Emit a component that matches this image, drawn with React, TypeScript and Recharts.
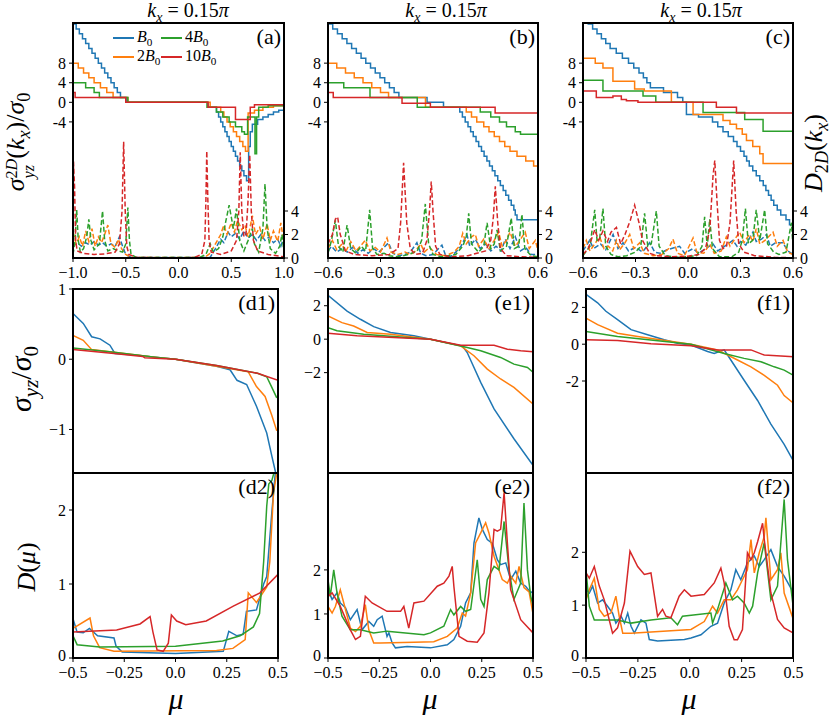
import { LineChart, Line, XAxis, YAxis } from 'recharts'

const BLUE = '#1f77b4'
const ORANGE = '#ff7f0e'
const GREEN = '#2ca02c'
const RED = '#d62728'
const FONT = '"Liberation Serif", "Times New Roman", Times, serif'

// ---- ticks ----
const xTicksA = [-1, -0.5, 0, 0.5, 1]
const xLabelsA = ['−1.0', '−0.5', '0.0', '0.5', '1.0']
const xTicksBC = [-0.6, -0.3, 0, 0.3, 0.6]
const xLabelsBC = ['−0.6', '−0.3', '0.0', '0.3', '0.6']
const xTicksMu = [-0.5, -0.25, 0, 0.25, 0.5]
const xLabelsMu = ['−0.5', '−0.25', '0.0', '0.25', '0.5']
const yTicksTop = [8, 4, 0, -4]
const yLabelsTop = ['8', '4', '0', '-4']
const rTicksTop = [0, 2, 4]
const yTicksD1 = [1, 0, -1]
const yLabelsD1 = ['1', '0', '−1']
const yTicksE1 = [2, 0, -2]
const yLabelsE1 = ['2', '0', '−2']
const yLabelsF1 = ['2', '0', '-2']
const yTicksDos = [0, 1, 2]
const yLabelsDos = ['0', '1', '2']

// ---- panel (a) : sigma (steps) and D_2D (dashed) ----
const aBlue = [[-1,16],[-0.97,15],[-0.94,14],[-0.91,13],[-0.88,12],[-0.85,11],[-0.82,10],[-0.79,9],[-0.76,8],[-0.73,7],[-0.7,6],[-0.67,5],[-0.64,4],[-0.61,3],[-0.58,2],[-0.55,1],[-0.49,0],[0.28,-1],[0.36,-2],[0.38,-3],[0.4,-4],[0.42,-5],[0.44,-6],[0.46,-7],[0.48,-8],[0.5,-9],[0.52,-10],[0.54,-11],[0.56,-12],[0.58,-13],[0.6,-14],[0.62,-15],[0.645,-16],[0.665,-9],[0.68,-6],[0.7,-4.5],[0.75,-3.5],[0.8,-3],[0.85,-2.5],[0.9,-2],[0.95,-1.6],[1,-1.3]]
const aOrange = [[-1,8],[-0.95,7],[-0.9,6],[-0.85,5],[-0.8,4],[-0.74,3],[-0.68,2],[-0.62,1],[-0.48,0],[0.3,-1],[0.4,-2],[0.43,-3],[0.46,-4],[0.49,-5],[0.52,-6],[0.55,-7],[0.58,-8],[0.61,-9],[0.635,-10],[0.66,-2.2],[0.72,-1.6],[0.8,-1],[0.9,-0.7],[1,-0.6]]
const aGreen = [[-1,4],[-0.88,3],[-0.8,2],[-0.75,1],[-0.48,0],[0.27,-1],[0.36,-2],[0.42,-3],[0.48,-4],[0.54,-5],[0.6,-6],[0.625,-6.5],[0.655,-3],[0.72,-3],[0.725,-10.5],[0.74,-3],[0.76,-1],[0.85,-0.7],[1,-0.5]]
const aRed = [[-1,2],[-0.98,1],[-0.5,0],[0.28,-1],[0.54,-3.5],[0.68,-1],[0.72,-0.5],[1,-0.5]]
const aBlueD = [[-1,1],[-0.96,1.3],[-0.92,1],[-0.88,1.3],[-0.84,1.1],[-0.8,1.4],[-0.76,1.1],[-0.72,1.3],[-0.68,1],[-0.64,1.2],[-0.6,1],[-0.56,1.8],[-0.53,1],[-0.5,0.3],[-0.45,0.05],[0.3,0.05],[0.35,0.8],[0.4,1.6],[0.43,1.3],[0.47,2.2],[0.5,1.8],[0.54,2.1],[0.58,1.6],[0.62,2.3],[0.66,1.7],[0.7,2],[0.74,1.5],[0.78,2],[0.82,1.5],[0.86,1.8],[0.9,1.3],[0.94,1.6],[0.97,1],[1,1.8]]
const aOrangeD = [[-1,2.2],[-0.97,1.2],[-0.94,1.8],[-0.91,1],[-0.88,2.3],[-0.85,1.4],[-0.82,2.5],[-0.79,1],[-0.76,1.8],[-0.73,1.3],[-0.7,2],[-0.67,2.8],[-0.64,1.2],[-0.6,0.9],[-0.57,1.6],[-0.54,0.8],[-0.5,0.3],[-0.45,0.05],[0.25,0.05],[0.3,0.4],[0.35,1.2],[0.4,2],[0.43,2.8],[0.46,2],[0.5,3],[0.53,2.2],[0.56,3.2],[0.6,2.4],[0.63,2.8],[0.66,1.8],[0.7,3.6],[0.73,2],[0.77,2.6],[0.8,1.6],[0.84,2.9],[0.87,1.5],[0.9,2.3],[0.94,1.4],[0.97,3],[1,1.2]]
const aGreenD = [[-1,0.3],[-0.98,1.5],[-0.965,4.1],[-0.95,1.5],[-0.93,0.5],[-0.9,0.8],[-0.87,1.8],[-0.85,3.3],[-0.83,1.5],[-0.8,0.7],[-0.75,1.2],[-0.72,4],[-0.7,1.5],[-0.67,0.6],[-0.62,0.8],[-0.57,0.6],[-0.53,0.5],[-0.5,1.2],[-0.48,4.3],[-0.465,1.5],[-0.45,0.3],[-0.4,0.05],[0.2,0.05],[0.26,0.3],[0.3,1.2],[0.33,0.5],[0.38,0.8],[0.42,1.8],[0.45,3.2],[0.48,4.5],[0.5,3.5],[0.52,2.5],[0.55,4.2],[0.58,1.5],[0.62,0.6],[0.66,1.5],[0.7,2.5],[0.72,1.2],[0.76,0.5],[0.8,2.5],[0.82,6.3],[0.84,2.5],[0.87,0.8],[0.92,0.4],[0.96,1],[0.98,2],[1,0.5]]
const aRedD = [[-1,0.5],[-0.995,8.2],[-0.985,6],[-0.975,1.5],[-0.96,0.6],[-0.9,0.4],[-0.8,0.3],[-0.7,0.35],[-0.6,0.5],[-0.56,1.2],[-0.535,4],[-0.52,9.9],[-0.505,4],[-0.49,1],[-0.47,0.3],[-0.4,0.05],[0,0],[0.15,0.05],[0.22,0.3],[0.25,1.5],[0.26,5],[0.268,9.1],[0.278,5],[0.29,1.5],[0.31,0.5],[0.4,0.3],[0.5,0.6],[0.55,1.5],[0.572,4],[0.585,9],[0.6,4],[0.62,1.8],[0.64,2],[0.66,5],[0.675,8.8],[0.69,4],[0.71,1.5],[0.75,0.6],[0.85,0.3],[1,0.1]]

// ---- panel (b) ----
const bBlue = [[-0.6,16],[-0.573,15],[-0.546,14],[-0.519,13],[-0.492,12],[-0.465,11],[-0.438,10],[-0.411,9],[-0.384,8],[-0.357,7],[-0.33,6],[-0.303,5],[-0.276,4],[-0.249,3],[-0.222,2],[-0.195,1],[-0.034,0],[0.06,-1],[0.153,-2],[0.168,-3],[0.184,-4],[0.2,-5],[0.215,-6],[0.23,-7],[0.246,-8],[0.261,-9],[0.277,-10],[0.292,-11],[0.308,-12],[0.323,-13],[0.339,-14],[0.354,-15],[0.37,-16],[0.385,-17],[0.401,-18],[0.416,-19],[0.432,-20],[0.447,-21],[0.462,-22],[0.47,-23],[0.48,-24],[0.6,-24]]
const bOrange = [[-0.6,8],[-0.55,7],[-0.5,6],[-0.45,5],[-0.4,4],[-0.35,3],[-0.3,2],[-0.254,1],[-0.043,-1],[0.19,-2],[0.22,-3],[0.25,-4],[0.29,-5],[0.32,-6],[0.35,-7],[0.38,-8],[0.41,-9],[0.44,-10],[0.48,-11],[0.53,-12],[0.575,-13],[0.6,-13]]
const bGreen = [[-0.6,4],[-0.51,3],[-0.36,1],[-0.09,-1],[0.27,-2],[0.33,-3],[0.38,-4],[0.42,-5],[0.47,-6],[0.5,-6.5],[0.6,-6.5]]
const bRed = [[-0.6,2],[-0.57,1],[-0.177,-0.2],[-0.015,-1],[0.355,-2.2],[0.6,-2.2]]
const bBlueD = [[-0.6,0.6],[-0.58,1],[-0.55,0.5],[-0.52,0.8],[-0.49,0.5],[-0.46,0.9],[-0.43,0.4],[-0.4,0.7],[-0.37,0.4],[-0.34,0.8],[-0.31,0.5],[-0.28,0.9],[-0.254,1.3],[-0.23,0.4],[-0.2,0.2],[-0.16,0.3],[-0.13,0.5],[-0.092,1.3],[-0.07,0.4],[-0.04,0.2],[0,0.3],[0.051,1.1],[0.07,0.3],[0.1,0.1],[0.13,0.5],[0.16,1],[0.194,2],[0.21,1],[0.242,1.6],[0.27,0.8],[0.3,1.2],[0.33,0.6],[0.36,1],[0.39,0.6],[0.413,1.6],[0.44,0.8],[0.47,1.8],[0.5,0.6],[0.53,0.9],[0.56,0.3],[0.6,0.3]]
const bOrangeD = [[-0.6,0.8],[-0.575,1.5],[-0.55,0.7],[-0.52,1.2],[-0.5,0.5],[-0.47,1.4],[-0.44,0.6],[-0.41,1.1],[-0.387,1.5],[-0.36,0.6],[-0.33,0.9],[-0.3,0.5],[-0.263,1.7],[-0.24,0.5],[-0.2,0.3],[-0.16,0.5],[-0.13,0.3],[-0.1,0.6],[-0.07,1.2],[-0.05,0.5],[-0.02,0.9],[0.02,0.3],[0.07,0.2],[0.12,0.5],[0.15,1],[0.17,2.1],[0.19,1.2],[0.22,1.8],[0.242,2],[0.26,1],[0.29,1.6],[0.32,0.8],[0.35,1.5],[0.375,2.2],[0.395,1],[0.42,1.5],[0.44,2.2],[0.47,1],[0.5,1.6],[0.527,2.2],[0.55,0.8],[0.585,1.5],[0.6,0.6]]
const bGreenD = [[-0.6,0.4],[-0.58,1.5],[-0.558,3.2],[-0.54,1],[-0.515,0.5],[-0.491,2.8],[-0.47,0.8],[-0.44,0.4],[-0.41,1],[-0.385,0.6],[-0.362,4.1],[-0.345,0.8],[-0.32,0.3],[-0.28,0.4],[-0.25,0.2],[-0.2,0.1],[-0.14,0.3],[-0.09,0.6],[-0.065,1.5],[-0.044,4.6],[-0.025,1.2],[0,0.3],[0.05,0.1],[0.13,0.3],[0.17,1],[0.19,1.8],[0.204,3.8],[0.22,1.2],[0.26,0.5],[0.29,1],[0.309,3],[0.33,0.8],[0.35,1.2],[0.366,2.4],[0.385,0.6],[0.42,1],[0.447,3.4],[0.465,0.8],[0.49,1],[0.508,3.7],[0.525,0.8],[0.56,0.2],[0.6,0.1]]
const bRedD = [[-0.6,1.2],[-0.575,2],[-0.558,3.3],[-0.545,3.5],[-0.53,2],[-0.5,0.6],[-0.45,0.3],[-0.35,0.2],[-0.25,0.3],[-0.2,0.8],[-0.185,3],[-0.168,8.1],[-0.15,3],[-0.13,0.8],[-0.1,0.3],[-0.06,0.4],[-0.035,1.5],[-0.02,4],[-0.01,6.5],[0,4],[0.015,1],[0.04,0.3],[0.1,0.1],[0.2,0.2],[0.3,0.6],[0.33,1.5],[0.345,3.5],[0.356,6.1],[0.37,3],[0.385,0.8],[0.42,0.2],[0.5,0.1],[0.6,0.05]]

// ---- panel (c) ----
const cBlue = [[-0.6,17],[-0.57,16],[-0.545,15],[-0.52,14],[-0.495,13],[-0.47,12],[-0.445,11],[-0.41,10],[-0.375,9],[-0.34,8],[-0.31,7],[-0.28,6],[-0.255,5],[-0.235,4],[-0.215,3],[-0.14,2],[-0.06,1],[-0.03,0],[-0.009,-2.5],[0.06,-3],[0.14,-4],[0.17,-5],[0.2,-6],[0.23,-7],[0.26,-8],[0.28,-9],[0.3,-10],[0.32,-11],[0.335,-12],[0.35,-13],[0.37,-14],[0.39,-15],[0.41,-16],[0.43,-17],[0.445,-18],[0.46,-19],[0.475,-20],[0.49,-21],[0.51,-22],[0.53,-23],[0.56,-24],[0.58,-25],[0.6,-25]]
const cOrange = [[-0.6,9],[-0.53,8],[-0.486,7],[-0.429,4.3],[-0.305,2.7],[-0.25,2.3],[-0.095,0],[0.029,-2.5],[0.2,-3.7],[0.24,-4.5],[0.277,-5.4],[0.31,-6.5],[0.334,-7.8],[0.37,-9],[0.41,-10.5],[0.429,-12.5],[0.6,-12.5]]
const cGreen = [[-0.6,4.5],[-0.486,2.3],[-0.257,1.3],[-0.184,0],[0.086,-2.1],[0.324,-3.5],[0.429,-5.9],[0.6,-5.9]]
const cRed = [[-0.6,2.3],[-0.524,1],[-0.429,1.3],[-0.381,0.6],[-0.352,0.3],[-0.286,0],[0.162,-1],[0.277,-2.2],[0.6,-2.2]]
const cBlueD = [[-0.6,0.6],[-0.562,1.5],[-0.54,0.8],[-0.5,1.2],[-0.47,0.7],[-0.428,2],[-0.4,0.8],[-0.371,1.3],[-0.34,0.6],[-0.3,0.9],[-0.26,0.5],[-0.219,1.3],[-0.19,0.5],[-0.16,0.4],[-0.12,0.7],[-0.048,1],[-0.02,0.4],[0.029,0.8],[0.06,0.4],[0.09,0.7],[0.143,1.2],[0.17,0.6],[0.2,0.9],[0.257,1.5],[0.28,1],[0.3,1.4],[0.33,1.1],[0.371,2.2],[0.39,1.4],[0.42,1.6],[0.448,2],[0.47,1],[0.5,1.3],[0.543,1.3],[0.57,0.6],[0.591,0.4],[0.6,0.2]]
const cOrangeD = [[-0.6,0.8],[-0.581,1.5],[-0.56,0.6],[-0.533,1.2],[-0.505,1.8],[-0.48,0.8],[-0.455,1],[-0.43,0.6],[-0.409,1.5],[-0.39,0.7],[-0.36,1.3],[-0.333,2],[-0.31,0.8],[-0.276,1.3],[-0.25,0.4],[-0.2,0.2],[-0.15,0.3],[-0.11,0.8],[-0.086,1.6],[-0.06,0.4],[-0.02,0.2],[0.029,1.7],[0.05,0.5],[0.09,0.4],[0.124,1.2],[0.15,0.4],[0.19,0.6],[0.219,1.8],[0.24,1],[0.295,2.2],[0.32,1.3],[0.35,2],[0.371,1.4],[0.39,2.5],[0.41,1.2],[0.44,1.5],[0.486,2.2],[0.51,1],[0.543,1.5],[0.57,0.5],[0.6,0.3]]
const cGreenD = [[-0.6,0.2],[-0.56,1],[-0.533,4.1],[-0.52,1.5],[-0.505,1.6],[-0.486,4.2],[-0.47,1],[-0.44,0.3],[-0.4,0.1],[-0.35,0.2],[-0.3,0.5],[-0.27,1],[-0.248,3.8],[-0.23,1],[-0.21,1.2],[-0.181,4],[-0.165,1],[-0.13,0.2],[-0.05,0.05],[0.05,0.2],[0.08,1],[0.095,3.5],[0.11,1],[0.124,3.3],[0.14,0.8],[0.18,0.1],[0.25,0.1],[0.29,0.5],[0.31,1.5],[0.328,4.2],[0.345,1.2],[0.37,1.5],[0.39,4.1],[0.41,1.5],[0.438,4.1],[0.455,1.2],[0.49,0.5],[0.52,0.3],[0.56,0.5],[0.591,3],[0.6,1]]
const cRedD = [[-0.6,0.3],[-0.57,0.8],[-0.533,2.4],[-0.51,1.5],[-0.486,2.3],[-0.46,1.4],[-0.44,2.2],[-0.409,2.6],[-0.385,1.2],[-0.36,2],[-0.33,3.2],[-0.305,4.5],[-0.28,3],[-0.26,1.5],[-0.219,0.4],[-0.18,0.2],[-0.1,0.1],[0,0.15],[0.06,0.3],[0.1,0.8],[0.125,2.5],[0.143,7],[0.153,8.3],[0.165,5],[0.18,1.5],[0.2,0.8],[0.22,1],[0.24,3],[0.261,8.3],[0.275,4],[0.29,1.2],[0.32,0.5],[0.38,0.2],[0.5,0.05],[0.6,0.02]]

// ---- (d1) (d2) ----
const d1Blue = [[-0.5,0.65],[-0.45,0.51],[-0.409,0.32],[-0.368,0.29],[-0.32,0.2],[-0.295,0.08],[-0.2,0.06],[-0.1,0.03],[0,0],[0.1,-0.05],[0.2,-0.1],[0.266,-0.15],[0.3,-0.3],[0.347,-0.36],[0.395,-0.67],[0.445,-1.05],[0.47,-1.38],[0.485,-1.57],[0.495,-1.7]]
const d1Orange = [[-0.5,0.34],[-0.45,0.27],[-0.41,0.14],[-0.3,0.1],[-0.1,0.03],[0,0],[0.2,-0.1],[0.355,-0.18],[0.395,-0.39],[0.437,-0.53],[0.47,-0.8],[0.494,-1.02]]
const d1Green = [[-0.5,0.16],[-0.3,0.1],[-0.1,0.03],[0,0],[0.2,-0.09],[0.4,-0.2],[0.445,-0.25],[0.47,-0.4],[0.494,-0.55]]
const d1Red = [[-0.5,0.14],[-0.3,0.08],[-0.16,0.04],[-0.15,0.02],[0,0],[0.2,-0.09],[0.4,-0.2],[0.5,-0.3]]
const d2Blue = [[-0.5,0.53],[-0.48,0.35],[-0.45,0.34],[-0.42,0.4],[-0.38,0.3],[-0.3,0.27],[-0.29,0.16],[-0.26,0.08],[0,0.06],[0.233,0.09],[0.26,0.36],[0.3,0.3],[0.33,0.32],[0.346,0.63],[0.395,0.65],[0.43,1],[0.445,1.1],[0.47,1.97],[0.49,2.6],[0.5,2.9]]
const d2Orange = [[-0.5,0.4],[-0.417,0.54],[-0.4,0.3],[-0.37,0.14],[-0.3,0.09],[0.2,0.1],[0.28,0.13],[0.34,0.25],[0.355,0.88],[0.395,0.75],[0.445,0.96],[0.46,1.3],[0.478,2.23],[0.5,2.6]]
const d2Green = [[-0.5,0.3],[-0.48,0.18],[-0.37,0.15],[0,0.16],[0.23,0.23],[0.315,0.3],[0.38,0.42],[0.41,0.6],[0.43,1.3],[0.445,2.05],[0.455,2.35],[0.47,2.4],[0.48,2.5],[0.5,2.6]]
const d2Red = [[-0.5,0.35],[-0.287,0.38],[-0.173,0.46],[-0.124,0.56],[-0.11,0.35],[-0.09,0.11],[-0.06,0.09],[-0.035,0.2],[-0.02,0.58],[0.006,0.5],[0.05,0.45],[0.15,0.5],[0.282,0.7],[0.412,0.88],[0.5,1.13]]

// ---- (e1) (e2) ----
const e1Blue = [[-0.5,2.62],[-0.407,1.68],[-0.342,1.19],[-0.277,0.75],[-0.195,0.4],[-0.081,0.2],[0,0],[0.114,-0.3],[0.155,-0.4],[0.179,-0.8],[0.245,-2.58],[0.31,-4.17],[0.407,-5.95],[0.5,-7.54]]
const e1Orange = [[-0.5,1.39],[-0.432,0.99],[-0.375,0.79],[-0.309,0.4],[-0.195,0.3],[0,0],[0.147,-0.4],[0.212,-0.99],[0.277,-1.79],[0.342,-2.38],[0.407,-2.88],[0.5,-3.87]]
const e1Green = [[-0.5,0.69],[-0.456,0.5],[-0.326,0.3],[0,0],[0.179,-0.5],[0.245,-0.69],[0.342,-1.09],[0.407,-1.49],[0.473,-1.69],[0.5,-1.98]]
const e1Red = [[-0.5,0.36],[-0.358,0.2],[0,0],[0.147,-0.36],[0.31,-0.36],[0.375,-0.6],[0.44,-0.69],[0.5,-0.75]]
const e2Blue = [[-0.5,1.55],[-0.48,1.33],[-0.456,1.48],[-0.44,1.25],[-0.415,1.14],[-0.391,0.87],[-0.358,1.1],[-0.334,0.64],[-0.301,0.83],[-0.277,0.72],[-0.26,0.87],[-0.236,0.95],[-0.212,0.49],[-0.203,0.57],[-0.187,0.34],[-0.171,0.23],[-0.114,0.26],[0,0.23],[0.082,0.3],[0.114,0.42],[0.147,0.72],[0.171,1.25],[0.196,1.48],[0.212,2.61],[0.236,3.18],[0.253,2.92],[0.277,2.69],[0.302,2.6],[0.326,2.23],[0.342,2.12],[0.367,2.16],[0.391,1.78],[0.416,1.97],[0.44,1.7],[0.464,1.63],[0.489,1.48],[0.5,1.52]]
const e2Orange = [[-0.5,1.17],[-0.48,1.02],[-0.464,1.17],[-0.44,1.55],[-0.423,1.25],[-0.391,0.68],[-0.366,0.6],[-0.342,0.72],[-0.318,1.21],[-0.301,0.64],[-0.277,0.34],[-0.244,0.34],[-0.081,0.36],[0.016,0.37],[0.082,0.49],[0.13,0.68],[0.155,1.02],[0.171,0.95],[0.196,1.48],[0.22,2.61],[0.245,2.84],[0.269,3.07],[0.285,2.84],[0.31,2.31],[0.334,2],[0.35,1.78],[0.375,1.7],[0.391,1.86],[0.416,1.7],[0.432,2.08],[0.456,1.6],[0.481,1.5],[0.5,1]]
const e2Green = [[-0.5,1.78],[-0.489,1.4],[-0.472,2],[-0.456,1.48],[-0.432,0.95],[-0.391,0.64],[-0.342,0.64],[-0.277,0.57],[-0.212,0.61],[-0.032,0.53],[0,0.57],[0.065,0.72],[0.098,1.1],[0.114,0.98],[0.147,1.17],[0.171,1.06],[0.196,1.1],[0.228,2.23],[0.245,1.33],[0.261,1.17],[0.277,1.78],[0.31,2.08],[0.334,2],[0.359,3.1],[0.383,2],[0.407,1.33],[0.44,1.7],[0.456,3.52],[0.473,2],[0.489,1.4],[0.5,1.2]]
const e2Red = [[-0.5,1.4],[-0.48,1.48],[-0.44,1.17],[-0.391,0.64],[-0.366,0.42],[-0.342,0.49],[-0.318,1.4],[-0.285,1.25],[-0.212,1.06],[-0.146,1.06],[-0.13,1.17],[-0.106,0.68],[-0.081,1.25],[-0.032,1.29],[0.033,1.63],[0.065,1.7],[0.09,1.86],[0.106,2.08],[0.114,1.63],[0.139,0.49],[0.179,0.38],[0.228,0.36],[0.261,0.57],[0.285,1.48],[0.31,2.92],[0.326,2.88],[0.342,2.92],[0.359,3.75],[0.375,2.61],[0.391,1.55],[0.44,0.87],[0.5,0.57]]

// ---- (f1) (f2) ----
const f1Blue = [[-0.5,2.71],[-0.444,2.25],[-0.404,1.79],[-0.348,1.34],[-0.283,0.79],[-0.203,0.51],[-0.123,0.24],[-0.059,0.05],[0.006,-0.04],[0.086,-0.4],[0.118,-0.5],[0.166,-0.31],[0.198,-0.86],[0.262,-1.96],[0.327,-3.06],[0.391,-4.34],[0.455,-5.44],[0.5,-6.36]]
const f1Orange = [[-0.5,1.42],[-0.444,1.06],[-0.348,0.6],[-0.251,0.42],[0.006,0],[0.134,-0.31],[0.23,-0.86],[0.295,-1.23],[0.359,-1.69],[0.423,-2.23],[0.455,-2.79],[0.5,-3.21]]
const f1Green = [[-0.5,0.69],[-0.348,0.42],[0.006,0],[0.166,-0.5],[0.262,-0.77],[0.343,-0.95],[0.407,-1.23],[0.455,-1.41],[0.5,-1.69]]
const f1Red = [[-0.5,0.24],[-0.348,0.2],[-0.187,0.02],[0.006,-0.09],[0.134,-0.31],[0.295,-0.31],[0.359,-0.59],[0.5,-0.68]]
const f2Blue = [[-0.5,1.29],[-0.484,1.23],[-0.468,1.36],[-0.444,1.04],[-0.42,1.1],[-0.396,0.98],[-0.372,0.85],[-0.356,0.66],[-0.331,0.79],[-0.315,0.66],[-0.299,0.85],[-0.283,0.6],[-0.267,0.47],[-0.235,0.72],[-0.211,0.66],[-0.195,0.35],[-0.155,0.32],[-0.026,0.35],[0.006,0.38],[0.054,0.44],[0.102,0.6],[0.134,0.66],[0.166,1.04],[0.198,1.29],[0.222,1.67],[0.246,1.48],[0.278,1.8],[0.311,1.93],[0.335,1.73],[0.359,1.86],[0.391,2.05],[0.423,1.73],[0.455,1.55],[0.5,1.23]]
const f2Orange = [[-0.5,1.1],[-0.484,1.29],[-0.46,1.51],[-0.436,0.92],[-0.412,0.79],[-0.38,0.85],[-0.356,1.17],[-0.34,0.79],[-0.323,0.47],[-0.283,0.47],[0.006,0.54],[0.07,0.69],[0.11,0.98],[0.134,0.85],[0.166,1.1],[0.198,1.1],[0.23,1.29],[0.254,1.48],[0.278,1.67],[0.295,2.24],[0.311,1.61],[0.335,1.99],[0.359,2.3],[0.367,2.65],[0.391,1.48],[0.423,1.67],[0.439,1.99],[0.455,1.23],[0.5,0.72]]
const f2Green = [[-0.5,1.67],[-0.484,0.98],[-0.46,0.72],[-0.348,0.72],[-0.283,0.66],[-0.187,0.72],[-0.091,0.76],[-0.059,0.63],[-0.035,0.79],[0.102,0.85],[0.11,0.66],[0.134,0.92],[0.174,1.42],[0.206,1.1],[0.23,1.17],[0.262,1.04],[0.287,0.85],[0.303,0.98],[0.327,1.61],[0.359,2.18],[0.391,1.1],[0.423,1.36],[0.439,2.18],[0.455,3],[0.471,1.86],[0.5,0.92]]
const f2Red = [[-0.5,1.61],[-0.484,1.51],[-0.46,1.73],[-0.436,1.36],[-0.412,1.1],[-0.372,0.47],[-0.348,0.57],[-0.315,1.04],[-0.288,2.02],[-0.251,1.73],[-0.219,1.58],[-0.187,1.61],[-0.155,0.79],[-0.131,0.92],[-0.115,0.79],[-0.091,0.76],[-0.051,1.17],[-0.026,1.29],[0.006,1.17],[0.07,1.2],[0.118,1.42],[0.15,1.7],[0.166,1.42],[0.19,0.6],[0.214,0.345],[0.23,0.345],[0.254,0.54],[0.278,1.99],[0.295,1.86],[0.311,1.99],[0.327,2.2],[0.351,2.55],[0.359,2.24],[0.391,1.23],[0.423,0.73],[0.455,0.57],[0.5,0.47]]

type Pt = { x: number; y: number }
const pts = (a: number[][]): Pt[] => a.map(([x, y]) => ({ x, y }))

type Series = { data: number[][]; color: string; dashed?: boolean; right?: boolean; step?: boolean }

interface PanelProps {
  left: number
  top: number
  w: number
  h: number
  xDomain: [number, number]
  xTicks: number[]
  xLabels?: string[]
  yDomain: [number, number]
  yTicks: number[]
  yLabels: string[]
  rDomain?: [number, number]
  rTicks?: number[]
  series: Series[]
  tag: string
}

const tickStyle = { fill: '#000', fontSize: 16, fontFamily: FONT }
const fmt = (ticks: number[], labels: string[]) => (v: number) => {
  const i = ticks.findIndex((t) => Math.abs(t - v) < 1e-9)
  return i >= 0 ? labels[i] : String(v)
}

// left tick: the label sitting on the bottom spine is lifted a little so it clears the x labels
const leftTick = (ticks: number[], labels: string[], min: number) => (props: any) => {
  const { x, y, payload, textAnchor } = props
  const lift = Math.abs(payload.value - min) < 1e-9 ? -3 : 0
  return (
    <text x={x} y={y + lift} dy="0.355em" textAnchor={textAnchor} fill="#000" fontSize={16} fontFamily={FONT}>
      {fmt(ticks, labels)(payload.value)}
    </text>
  )
}

// room around the plot so that edge tick labels are not cut
const PAD_T = 10
const PAD_R = 22

function Panel(p: PanelProps) {
  const LW = 50
  const RW = p.rTicks ? 30 : 0
  const XH = p.xLabels ? 30 : 0
  const W = LW + p.w + RW + PAD_R
  const H = PAD_T + p.h + XH
  return (
    <div style={{ position: 'absolute', left: p.left - LW, top: p.top - PAD_T, width: W, height: H }}>
      <LineChart width={W} height={H} margin={{ top: PAD_T, right: PAD_R, bottom: 0, left: 0 }}>
        <XAxis
          dataKey="x" type="number" domain={p.xDomain} ticks={p.xTicks} allowDataOverflow interval={0}
          hide={!p.xLabels} height={XH} axisLine={false} tickSize={4} tickMargin={5} tickLine={{ stroke: '#000' }}
          tick={tickStyle} tickFormatter={p.xLabels ? fmt(p.xTicks, p.xLabels) : undefined}
        />
        <YAxis
          yAxisId="L" domain={p.yDomain} ticks={p.yTicks} allowDataOverflow interval={0} width={LW}
          axisLine={false} tickSize={4} tickMargin={3} tickLine={{ stroke: '#000' }}
          tick={leftTick(p.yTicks, p.yLabels, p.yDomain[0])}
        />
        {p.rTicks && (
          <YAxis
            yAxisId="R" orientation="right" domain={p.rDomain} ticks={p.rTicks} allowDataOverflow interval={0}
            width={RW} axisLine={false} tickSize={4} tickMargin={3} tickLine={{ stroke: '#000' }} tick={tickStyle}
          />
        )}
        {p.series.map((s, i) => (
          <Line
            key={i}
            yAxisId={s.right ? 'R' : 'L'}
            data={pts(s.data)}
            dataKey="y"
            type={s.step ? 'stepAfter' : 'linear'}
            stroke={s.color}
            strokeWidth={1.5}
            strokeDasharray={s.dashed ? '5 2.5' : undefined}
            dot={false}
            activeDot={false}
            isAnimationActive={false}
          />
        ))}
      </LineChart>
      <div style={{
        position: 'absolute', left: LW - 1, top: PAD_T - 1, width: p.w + 2, height: p.h + 2,
        border: '2px solid #000', boxSizing: 'border-box', pointerEvents: 'none',
      }} />
      <div style={{
        position: 'absolute', left: LW, width: p.w - 3, textAlign: 'right', top: PAD_T + 3,
        fontSize: 22, fontFamily: FONT, lineHeight: 1,
      }}>{p.tag}</div>
    </div>
  )
}

const four = (b: number[][], o: number[][], g: number[][], r: number[][], extra: Partial<Series> = {}): Series[] => [
  { data: b, color: BLUE, ...extra },
  { data: o, color: ORANGE, ...extra },
  { data: g, color: GREEN, ...extra },
  { data: r, color: RED, ...extra },
]

function VLabel({ cx, cy, size, children }: { cx: number; cy: number; size: number; children: any }) {
  return (
    <div style={{
      position: 'absolute', left: cx, top: cy, transform: 'translate(-50%, -50%) rotate(-90deg)',
      fontSize: size, fontFamily: FONT, whiteSpace: 'nowrap', lineHeight: 1,
    }}>{children}</div>
  )
}

function Title({ cx }: { cx: number }) {
  return (
    <div style={{
      position: 'absolute', left: cx, top: 0, transform: 'translateX(-50%)',
      fontSize: 20, fontFamily: FONT, whiteSpace: 'nowrap', lineHeight: 1,
    }}>
      <i>k</i><sub style={{ fontSize: '0.7em' }}><i>x</i></sub> = 0.15<i>π</i>
    </div>
  )
}

const sub = { fontSize: '0.7em' }

function LegendItem({ x, y, color, label }: { x: number; y: number; color: string; label: any }) {
  return (
    <>
      <div style={{ position: 'absolute', left: x, top: y - 1, width: 21, height: 2, background: color }} />
      <div style={{ position: 'absolute', left: x + 24, top: y - 9, fontSize: 16, fontFamily: FONT, lineHeight: 1, whiteSpace: 'nowrap' }}>{label}</div>
    </>
  )
}

export default function App() {
  const topY: [number, number] = [-31.8, 16.2]
  const topR: [number, number] = [0, 20]
  const muX: [number, number] = [-0.5, 0.5]
  return (
    <div style={{ position: 'absolute', left: 0, top: 0, width: 831, height: 722, background: '#fff', fontFamily: FONT }}>
      <Title cx={188} />
      <Title cx={446} />
      <Title cx={701} />

      <Panel left={73} top={23} w={211} h={235} xDomain={[-1, 1]} xTicks={xTicksA} xLabels={xLabelsA}
        yDomain={topY} yTicks={yTicksTop} yLabels={yLabelsTop} rDomain={topR} rTicks={rTicksTop} tag="(a)"
        series={[...four(aBlue, aOrange, aGreen, aRed, { step: true }), ...four(aBlueD, aOrangeD, aGreenD, aRedD, { dashed: true, right: true })]} />
      <Panel left={328} top={23} w={210} h={235} xDomain={[-0.6, 0.6]} xTicks={xTicksBC} xLabels={xLabelsBC}
        yDomain={topY} yTicks={yTicksTop} yLabels={yLabelsTop} rDomain={topR} rTicks={rTicksTop} tag="(b)"
        series={[...four(bBlue, bOrange, bGreen, bRed, { step: true }), ...four(bBlueD, bOrangeD, bGreenD, bRedD, { dashed: true, right: true })]} />
      <Panel left={583} top={23} w={210} h={235} xDomain={[-0.6, 0.6]} xTicks={xTicksBC} xLabels={xLabelsBC}
        yDomain={topY} yTicks={yTicksTop} yLabels={yLabelsTop} rDomain={topR} rTicks={rTicksTop} tag="(c)"
        series={[...four(cBlue, cOrange, cGreen, cRed, { step: true }), ...four(cBlueD, cOrangeD, cGreenD, cRedD, { dashed: true, right: true })]} />

      <Panel left={73} top={289} w={205} h={184} xDomain={muX} xTicks={xTicksMu}
        yDomain={[-1.62, 1]} yTicks={yTicksD1} yLabels={yLabelsD1} tag="(d1)"
        series={four(d1Blue, d1Orange, d1Green, d1Red)} />
      <Panel left={73} top={473} w={205} h={185} xDomain={muX} xTicks={xTicksMu} xLabels={xLabelsMu}
        yDomain={[0, 2.5]} yTicks={yTicksDos} yLabels={yLabelsDos} tag="(d2)"
        series={four(d2Blue, d2Orange, d2Green, d2Red)} />
      <Panel left={328} top={289} w={205} h={184} xDomain={muX} xTicks={xTicksMu}
        yDomain={[-8, 3]} yTicks={yTicksE1} yLabels={yLabelsE1} tag="(e1)"
        series={four(e1Blue, e1Orange, e1Green, e1Red)} />
      <Panel left={328} top={473} w={205} h={185} xDomain={muX} xTicks={xTicksMu} xLabels={xLabelsMu}
        yDomain={[0, 4.2]} yTicks={yTicksDos} yLabels={yLabelsDos} tag="(e2)"
        series={four(e2Blue, e2Orange, e2Green, e2Red)} />
      <Panel left={585.5} top={289} w={207.5} h={184} xDomain={muX} xTicks={xTicksMu}
        yDomain={[-7, 3]} yTicks={yTicksE1} yLabels={yLabelsF1} tag="(f1)"
        series={four(f1Blue, f1Orange, f1Green, f1Red)} />
      <Panel left={585.5} top={473} w={207.5} h={185} xDomain={muX} xTicks={xTicksMu} xLabels={xLabelsMu}
        yDomain={[0, 3.5]} yTicks={yTicksDos} yLabels={yLabelsDos} tag="(f2)"
        series={four(f2Blue, f2Orange, f2Green, f2Red)} />

      {/* legend in (a) */}
      <LegendItem x={113} y={38} color={BLUE} label={<><i>B</i><sub style={sub}>0</sub></>} />
      <LegendItem x={161} y={38} color={GREEN} label={<>4<i>B</i><sub style={sub}>0</sub></>} />
      <LegendItem x={113} y={57} color={ORANGE} label={<>2<i>B</i><sub style={sub}>0</sub></>} />
      <LegendItem x={161} y={57} color={RED} label={<>10<i>B</i><sub style={sub}>0</sub></>} />

      {/* axis labels */}
      <VLabel cx={20} cy={142} size={26}>
        <i>σ</i>
        <span style={{ display: 'inline-flex', flexDirection: 'column', fontSize: '0.62em', lineHeight: 1.05, verticalAlign: '0.45em' }}>
          <span>2<i>D</i></span><i>yz</i>
        </span>
        (<i>k</i><sub style={sub}><i>x</i></sub>)/<i>σ</i><sub style={sub}>0</sub>
      </VLabel>
      <VLabel cx={24} cy={379} size={30}>
        <i>σ</i><sub style={sub}><i>yz</i></sub>/<i>σ</i><sub style={sub}>0</sub>
      </VLabel>
      <VLabel cx={27} cy={567} size={26}>
        <i>D</i>(<i>μ</i>)
      </VLabel>
      <VLabel cx={816} cy={153} size={26}>
        <i>D</i><sub style={sub}>2<i>D</i></sub>(<i>k</i><sub style={sub}><i>x</i></sub>)
      </VLabel>
      {[176, 430, 689].map((cx) => (
        <div key={cx} style={{ position: 'absolute', left: cx, top: 684, transform: 'translateX(-50%)', fontSize: 30, fontFamily: FONT, lineHeight: 1 }}>
          <i>μ</i>
        </div>
      ))}
    </div>
  )
}
